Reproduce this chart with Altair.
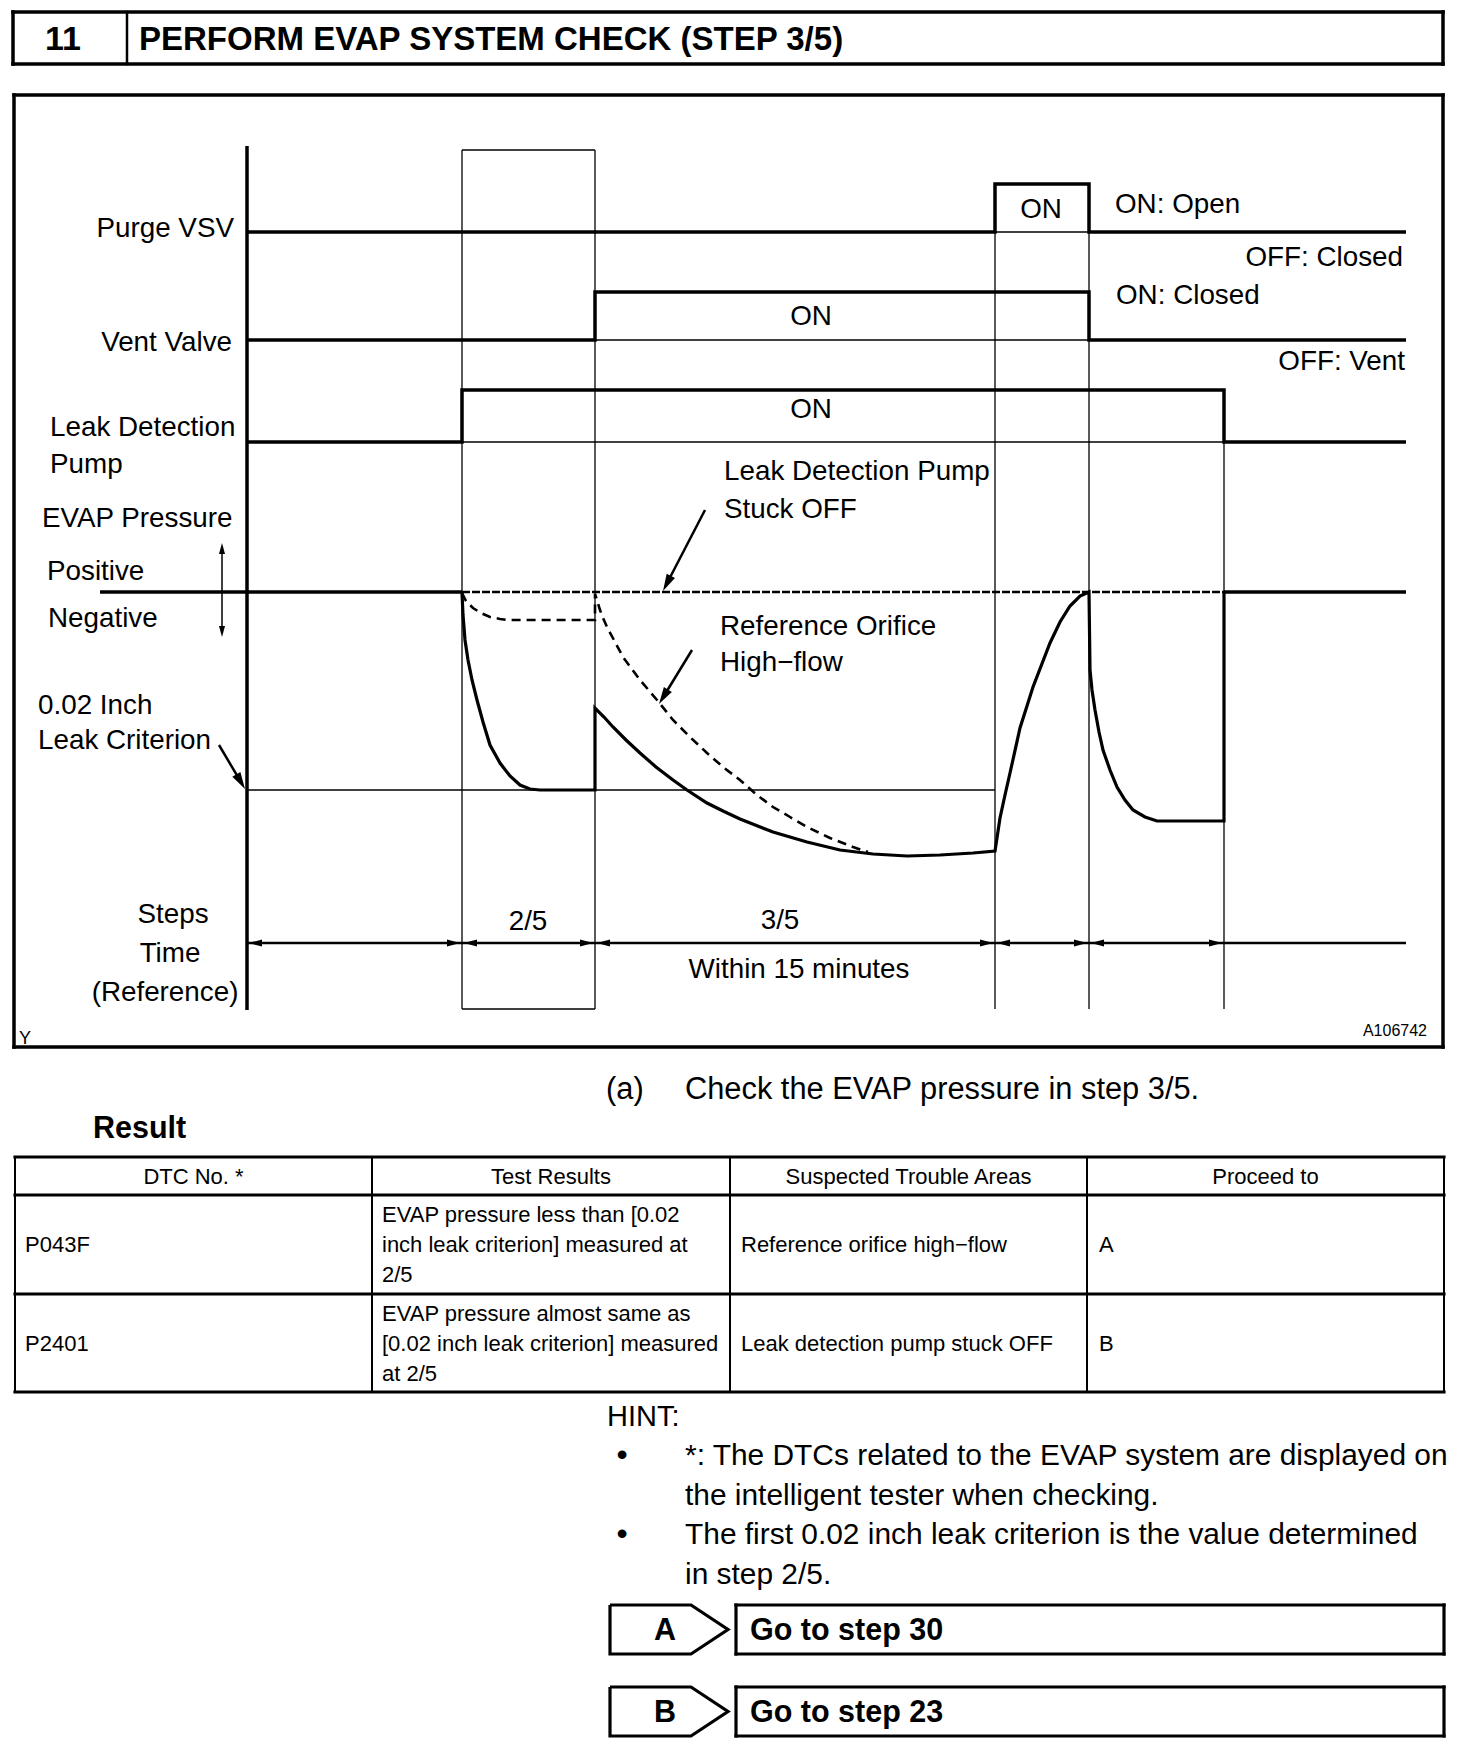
import math
import altair as alt
import pandas as pd

# ------------------------------------------------------------------
# content
# ------------------------------------------------------------------
HEAD_NO = "11"
HEAD_TITLE = "PERFORM EVAP SYSTEM CHECK (STEP 3/5)"

# time boundaries of the timing diagram (diagram x units)
STEP_EDGES = [247, 462, 595, 995, 1089, 1224]
TIME_END = 1406

# on/off waveforms (x, y in diagram units)
PURGE_X = [247, 995, 995, 1089, 1089, 1406]
PURGE_Y = [232, 232, 184, 184, 232, 232]
VENT_X = [247, 595, 595, 1089, 1089, 1406]
VENT_Y = [340, 340, 292, 292, 340, 340]
PUMP_X = [247, 462, 462, 1224, 1224, 1406]
PUMP_Y = [442, 442, 390, 390, 442, 442]

PRESS_ZERO = 592
LEAK_CRIT = 790

# EVAP pressure, normal trace
EVAP_X = [462, 463, 465, 468, 472, 477, 483, 490, 500, 510, 520, 530, 540, 595, 595,
          604, 613, 626, 640, 656, 673, 687, 707, 723, 740, 773, 807, 840, 873, 907, 940, 973, 995,
          997, 1000, 1005, 1010, 1020, 1033, 1050, 1060, 1070, 1080, 1089,
          1090, 1092, 1095, 1099, 1103, 1110, 1117, 1125, 1133, 1145, 1157, 1224, 1224]
EVAP_Y = [593, 615, 640, 660, 680, 700, 722, 745, 763, 776, 785, 789, 790, 790, 708,
          717, 727, 740, 753, 767, 780, 790, 803, 811, 819, 832, 842, 850, 854, 856, 855, 853, 851,
          838, 818, 795, 773, 728, 687, 643, 622, 606, 596, 592,
          670, 690, 710, 732, 750, 770, 787, 800, 810, 817, 821, 821, 592]

# EVAP pressure, reference orifice high-flow trace (dashed)
HIFLOW_X = [462, 466, 473, 481, 490, 500, 507, 595, 595, 597, 600, 603, 607, 615, 623,
            640, 657, 673, 690, 707, 723, 740, 757, 773, 790, 807, 830, 853, 868]
HIFLOW_Y = [593, 601, 608, 613, 617, 619, 620, 620, 594, 600, 610, 618, 627, 642, 657,
            680, 700, 720, 737, 753, 767, 780, 795, 807, 817, 827, 838, 847, 852]

DIAG_LABELS_RIGHT = ["Purge VSV", "Vent Valve", "OFF: Closed", "OFF: Vent", "A106742"]
DIAG_LABELS_LEFT = ["Leak Detection", "Pump", "EVAP Pressure", "Positive", "Negative",
                    "0.02 Inch", "Leak Criterion", "ON: Open", "ON: Closed",
                    "Leak Detection Pump", "Stuck OFF", "Reference Orifice", "High\u2212flow"]
DIAG_LABELS_CENTER = ["Steps", "Time", "(Reference)", "2/5", "3/5", "Within 15 minutes",
                      "ON", "ON", "ON"]

CHECK_NO = "(a)"
CHECK_TEXT = "Check the EVAP pressure in step 3/5."
RESULT_TITLE = "Result"

TABLE_COLS = ["DTC No. *", "Test Results", "Suspected Trouble Areas", "Proceed to"]
TABLE_DTC = ["P043F", "P2401"]
TABLE_RESULT = [["EVAP pressure less than [0.02", "inch leak criterion] measured at", "2/5"],
                ["EVAP pressure almost same as", "[0.02 inch leak criterion] measured", "at 2/5"]]
TABLE_AREA = ["Reference orifice high\u2212flow", "Leak detection pump stuck OFF"]
TABLE_GOTO = ["A", "B"]

HINT_TITLE = "HINT:"
HINT_ITEMS = [["*: The DTCs related to the EVAP system are displayed on",
               "the intelligent tester when checking."],
              ["The first 0.02 inch leak criterion is the value determined",
               "in step 2/5."]]

BUTTON_KEYS = ["A", "B"]
BUTTON_TEXT = ["Go to step 30", "Go to step 23"]

# ------------------------------------------------------------------
# layout helpers
# ------------------------------------------------------------------
W, H = 1456, 1736
X0, Y0 = 8, 8
FONT = "Liberation Sans"
XS = alt.Scale(domain=[X0, X0 + W], nice=False, zero=False)
YS = alt.Scale(domain=[Y0, Y0 + H], nice=False, zero=False, reverse=True)
LABEL_SIZE = 27.8


def enc_xy(ch):
    return ch.encode(x=alt.X("x:Q", scale=XS, axis=None),
                     y=alt.Y("y:Q", scale=YS, axis=None))


def poly(series, width, dash=None):
    rows = []
    for g, (xs, ys) in enumerate(series):
        for i, (a, b) in enumerate(zip(xs, ys)):
            rows.append({"g": g, "i": i, "x": a, "y": b})
    kw = dict(color="black", strokeWidth=width, strokeJoin="miter", strokeCap="butt")
    if dash:
        kw["strokeDash"] = dash
    ch = alt.Chart(pd.DataFrame(rows)).mark_line(**kw)
    return enc_xy(ch).encode(detail="g:N", order="i:Q")


def rules(segs, width, dash=None, cap="square"):
    df = pd.DataFrame(segs, columns=["x", "y", "x2", "y2"])
    kw = dict(color="black", strokeWidth=width, strokeCap=cap)
    if dash:
        kw["strokeDash"] = dash
    ch = alt.Chart(df).mark_rule(**kw)
    return enc_xy(ch).encode(x2="x2:Q", y2="y2:Q")


def rect_segs(x1, y1, x2, y2):
    return [(x1, y1, x2, y1), (x2, y1, x2, y2), (x2, y2, x1, y2), (x1, y2, x1, y1)]


HEAD_PATH = "M0,0L0.55,2L-0.55,2Z"


def heads(items):
    # items: (tip_x, tip_y, dir_x, dir_y, length)
    rows = []
    for tx, ty, dx, dy, ln in items:
        ang = math.degrees(math.atan2(dx, -dy)) % 360
        rows.append({"x": tx, "y": ty, "a": ang, "s": ln * ln})
    ch = alt.Chart(pd.DataFrame(rows)).mark_point(shape=HEAD_PATH, filled=True,
                                                  color="black", opacity=1, strokeWidth=0)
    return enc_xy(ch).encode(angle=alt.Angle("a:Q", scale=None),
                             size=alt.Size("s:Q", scale=None))


def texts(rows, size, align="left", weight="normal"):
    df = pd.DataFrame(rows, columns=["t", "x", "y"])
    ch = alt.Chart(df).mark_text(align=align, baseline="alphabetic", fontSize=size,
                                 fontWeight=weight, font=FONT, color="black")
    return enc_xy(ch).encode(text="t:N")


layers = []

# ------------------------------------------------------------------
# header
# ------------------------------------------------------------------
layers.append(rules(rect_segs(13, 12, 1443, 64), 3.5))
layers.append(rules([(127, 12, 127, 64)], 2.5))
layers.append(texts([(HEAD_NO, 63, 50)], 34, "center", "bold"))
layers.append(texts([(HEAD_TITLE, 139, 50)], 33, "left", "bold"))

# ------------------------------------------------------------------
# timing diagram
# ------------------------------------------------------------------
layers.append(rules(rect_segs(14, 95, 1443, 1047), 3.5))

e = STEP_EDGES
thin = rect_segs(e[1], 150, e[2], 1009)
thin += [(e[3], 184, e[3], 1009), (e[4], 184, e[4], 1009), (e[5], 390, e[5], 1009),
         (e[0], LEAK_CRIT, e[3], LEAK_CRIT),
         (e[3], PURGE_Y[0], e[4], PURGE_Y[0]),
         (e[2], VENT_Y[0], e[4], VENT_Y[0]),
         (e[1], PUMP_Y[0], e[5], PUMP_Y[0])]
layers.append(rules(thin, 1.3, cap="butt"))

# y axis, zero line, time axis
layers.append(rules([(e[0], 146, e[0], 1010)], 3.5, cap="butt"))
layers.append(rules([(100, PRESS_ZERO, e[1], PRESS_ZERO),
                     (e[5], PRESS_ZERO, TIME_END, PRESS_ZERO)], 3.5, cap="butt"))
layers.append(rules([(e[1], PRESS_ZERO, e[5], PRESS_ZERO)], 2.5, dash=[8, 2], cap="butt"))
layers.append(rules([(e[0], 943, TIME_END, 943)], 2.5, cap="butt"))

# waveforms
layers.append(poly([(PURGE_X, PURGE_Y), (VENT_X, VENT_Y), (PUMP_X, PUMP_Y)], 3.5))
layers.append(poly([(EVAP_X, EVAP_Y)], 3.2))
layers.append(poly([(HIFLOW_X, HIFLOW_Y)], 2.6, dash=[9, 6]))

# annotation arrows
ARROWS = [(705, 510, 663, 591), (692, 650, 659, 704), (219, 745, 245, 789)]
layers.append(rules([(a, b, c + (a - c) * 0.12, d + (b - d) * 0.12) for a, b, c, d in ARROWS], 2.5, cap="butt"))
head_items = [(c, d, c - a, d - b, 17) for a, b, c, d in ARROWS]
# positive / negative double arrow
layers.append(rules([(222, 550, 222, 630)], 1.5, cap="butt"))
head_items += [(222, 543, 0, -1, 11), (222, 637, 0, 1, 11)]
# time axis arrows
for a, b in zip(e[:-1], e[1:]):
    head_items += [(a + 2, 943, -1, 0, 13), (b - 2, 943, 1, 0, 13)]
layers.append(heads(head_items))

# diagram labels
layers.append(texts([(DIAG_LABELS_RIGHT[0], 234, 237), (DIAG_LABELS_RIGHT[1], 232, 351),
                     (DIAG_LABELS_RIGHT[2], 1403, 266), (DIAG_LABELS_RIGHT[3], 1405, 370)],
                    LABEL_SIZE, "right"))
layers.append(texts([(DIAG_LABELS_RIGHT[4], 1427, 1036)], 16, "right"))
left_pos = [(50, 436), (50, 473), (42, 527), (47, 580), (48, 627), (38, 714), (38, 749),
            (1115, 213), (1116, 304), (724, 480), (724, 518), (720, 635), (720, 671)]
layers.append(texts([(t, x, y) for t, (x, y) in zip(DIAG_LABELS_LEFT, left_pos)], LABEL_SIZE, "left"))
center_pos = [(173, 923), (170, 962), (165, 1001), (528, 930), (780, 929), (799, 978),
              (1041, 218), (811, 325), (811, 418)]
layers.append(texts([(t, x, y) for t, (x, y) in zip(DIAG_LABELS_CENTER, center_pos)], LABEL_SIZE, "center"))
layers.append(texts([("Y", 19, 1044)], 18, "left"))

# ------------------------------------------------------------------
# check text and result table
# ------------------------------------------------------------------
layers.append(texts([(CHECK_NO, 606, 1099), (CHECK_TEXT, 685, 1099)], 30.8, "left"))
layers.append(texts([(RESULT_TITLE, 93, 1138)], 30.5, "left", "bold"))

COLS_X = [15, 372, 730, 1087, 1444]
ROWS_Y = [1157, 1195, 1294, 1392]
layers.append(rules([(COLS_X[0], y, COLS_X[-1], y) for y in ROWS_Y], 3.2, cap="square"))
layers.append(rules([(x, ROWS_Y[0], x, ROWS_Y[-1]) for x in COLS_X], 2, cap="butt"))
layers.append(texts([(t, (COLS_X[i] + COLS_X[i + 1]) / 2, 1183.5) for i, t in enumerate(TABLE_COLS)],
                    22, "center"))
cell_rows = []
for r in range(2):
    mid = (ROWS_Y[r + 1] + ROWS_Y[r + 2]) / 2 + 7.5
    cell_rows.append((TABLE_DTC[r], COLS_X[0] + 10, mid))
    for k, line in enumerate(TABLE_RESULT[r]):
        cell_rows.append((line, COLS_X[1] + 10, mid + (k - 1) * 30))
    cell_rows.append((TABLE_AREA[r], COLS_X[2] + 11, mid))
    cell_rows.append((TABLE_GOTO[r], COLS_X[3] + 12, mid))
layers.append(texts(cell_rows, 22, "left"))

# ------------------------------------------------------------------
# hints
# ------------------------------------------------------------------
layers.append(texts([(HINT_TITLE, 607, 1426)], 29, "left"))
hint_rows = []
bullet_rows = []
base = 1465
for item in HINT_ITEMS:
    bullet_rows.append(("\u2022", 622, base))
    for line in item:
        hint_rows.append((line, 685, base))
        base += 39.5
layers.append(texts(hint_rows, 29.9, "left"))
layers.append(texts(bullet_rows, 32, "center"))

# ------------------------------------------------------------------
# buttons
# ------------------------------------------------------------------
BTN_TOPS = [1605, 1687]
BTN_H = 49
tag_series = []
box_segs = []
key_rows = []
go_rows = []
for k, top in enumerate(BTN_TOPS):
    bot = top + BTN_H
    mid = top + BTN_H / 2
    tag_series.append(([610, 691, 728, 691, 610, 610], [top, top, mid, bot, bot, top]))
    box_segs += rect_segs(736, top, 1444, bot)
    key_rows.append((BUTTON_KEYS[k], 665, mid + 10.5))
    go_rows.append((BUTTON_TEXT[k], 750, mid + 10.5))
layers.append(poly(tag_series, 3.2))
layers.append(rules(box_segs, 3.2))
layers.append(texts(key_rows, 30.5, "center", "bold"))
layers.append(texts(go_rows, 30.5, "left", "bold"))

chart = alt.layer(*layers).properties(
    width=W, height=H, autosize=alt.AutoSizeParams(type="none"), padding=0,
    background="white"
).configure_view(stroke=None)

chart.save("out.html", embed_options={"renderer": "svg", "actions": False})
